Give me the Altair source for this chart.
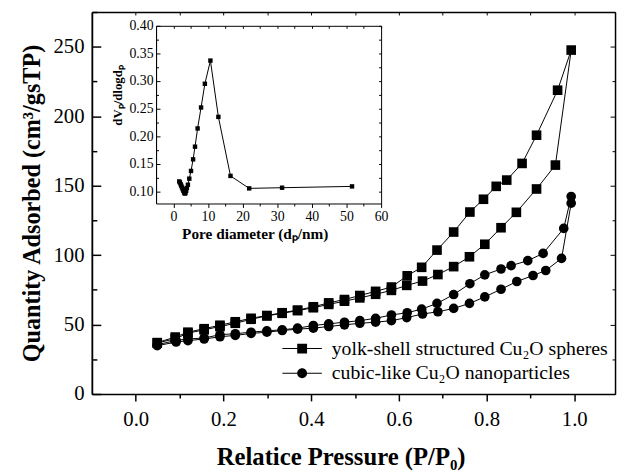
import altair as alt
import pandas as pd

# ---------------- data ----------------
SERIES = ["yolk-shell structured Cu\u2082O spheres", "cubic-like Cu\u2082O nanoparticles"]

yolk_ads_p = [0.049, 0.090, 0.119, 0.156, 0.192, 0.227, 0.263, 0.299, 0.334, 0.369, 0.405, 0.440, 0.476, 0.511,
              0.547, 0.583, 0.618, 0.654, 0.689, 0.725, 0.761, 0.796, 0.833, 0.868, 0.914, 0.957, 0.993]
yolk_ads_q = [36.7, 39.8, 43.8, 46.2, 48.6, 50.9, 53.8, 56.2, 58.1, 60.0, 62.1, 64.5, 66.8, 69.2,
              71.8, 74.6, 78.2, 81.3, 86.0, 91.7, 98.8, 107.8, 119.7, 130.8, 147.6, 164.8, 247.6]
yolk_des_p = [0.962, 0.914, 0.881, 0.846, 0.822, 0.793, 0.762, 0.725, 0.687, 0.652, 0.619, 0.583, 0.547, 0.511,
              0.476, 0.440, 0.405, 0.369, 0.334, 0.299, 0.263, 0.227, 0.192, 0.156, 0.119, 0.090, 0.049]
yolk_des_q = [218.7, 186.3, 166.0, 154.0, 149.5, 140.2, 131.0, 116.6, 103.6, 91.2, 85.1, 77.0, 73.9, 70.9,
              68.0, 65.6, 62.8, 60.4, 58.5, 56.5, 54.5, 52.0, 49.5, 47.0, 44.5, 41.0, 37.0]

cubic_ads_p = [0.049, 0.092, 0.119, 0.156, 0.192, 0.227, 0.263, 0.299, 0.334, 0.369, 0.405, 0.440, 0.476, 0.511,
               0.547, 0.583, 0.618, 0.654, 0.689, 0.725, 0.761, 0.796, 0.833, 0.869, 0.906, 0.935, 0.971, 0.993]
cubic_ads_q = [34.8, 37.4, 38.4, 39.6, 41.2, 42.2, 43.6, 44.5, 45.7, 46.7, 47.4, 48.6, 49.8, 50.9,
               51.7, 52.8, 55.0, 57.6, 59.2, 61.6, 65.2, 69.9, 75.4, 81.0, 85.3, 88.9, 97.6, 137.4]
cubic_des_p = [0.993, 0.976, 0.929, 0.894, 0.856, 0.833, 0.796, 0.762, 0.725, 0.687, 0.652, 0.619, 0.583, 0.547,
               0.511, 0.476, 0.440, 0.405, 0.369, 0.334, 0.299, 0.263, 0.227, 0.192, 0.156, 0.119, 0.092, 0.049]
cubic_des_q = [142.2, 119.2, 101.2, 96.0, 92.4, 90.0, 85.8, 79.4, 71.6, 65.2, 61.1, 58.5, 56.9, 54.5,
               52.8, 51.7, 50.5, 49.3, 47.4, 46.2, 45.5, 44.5, 43.4, 42.7, 40.3, 39.6, 38.6, 35.5]

pore_d = [1.7, 1.9, 2.1, 2.3, 2.5, 2.7, 2.9, 3.1, 3.3, 3.5, 3.7, 3.9, 4.2, 4.6, 5.1, 5.7, 6.25, 7.0, 8.0,
          9.1, 10.7, 13.0, 16.5, 21.9, 31.4, 51.6]
pore_dv = [0.118, 0.116, 0.113, 0.110, 0.107, 0.104, 0.101, 0.098, 0.096, 0.097, 0.101, 0.106, 0.112, 0.123,
           0.137, 0.158, 0.181, 0.214, 0.252, 0.295, 0.337, 0.235, 0.128, 0.1054, 0.1066, 0.109]

# ---------------- tables ----------------
rows = []
for name, ap, aq, dp, dq in [(SERIES[0], yolk_ads_p, yolk_ads_q, yolk_des_p, yolk_des_q),
                             (SERIES[1], cubic_ads_p, cubic_ads_q, cubic_des_p, cubic_des_q)]:
    k = 0
    for p, q in zip(ap + dp, aq + dq):
        rows.append({"series": name, "p": p, "q": q, "order": k})
        k += 1
main_df = pd.DataFrame(rows)
inset_df = pd.DataFrame({"d": pore_d, "dv": pore_dv, "order": list(range(len(pore_d)))})

# ---------------- layout constants ----------------
W, H = 530, 387
XD = [-0.1, 1.093]
YD = [0, 275]
IXD = [-5, 60]
IYD = [0.078, 0.40]
IXR = [65, 293]
IYR = [194, 14]
SERIF = "Liberation Serif"

x_all = [round(0.1 * i, 1) for i in range(11)]
y_all = [25 * i for i in range(12)]
ix_all = [5 * i for i in range(13)]
iy_all = [round(0.1 + 0.025 * i, 3) for i in range(13)]

is_major_x = "abs(datum.value*5 - round(datum.value*5)) < 0.001"
is_major_y = "datum.value % 50 == 0"
is_major_ix = "datum.value % 10 == 0"
is_major_iy = "abs(datum.value*20 - round(datum.value*20)) < 0.001"

base_axis = dict(grid=False, domainColor="black", tickColor="black", labelColor="black",
                 titleColor="black", labelFont=SERIF, titleFont=SERIF)


def xs(field, domain, rng=None):
    if rng is None:
        return alt.Scale(domain=domain, nice=False, zero=False)
    return alt.Scale(domain=domain, range=rng, nice=False, zero=False)


# ---------------- main chart layers ----------------
main_lines = alt.Chart(main_df).mark_line(color="black", strokeWidth=1).encode(
    x=alt.X("p:Q", scale=xs("p", XD), axis=alt.Axis(
        orient="bottom", values=x_all, domainWidth=1.5, tickWidth=1.5,
        tickSize={"condition": {"test": is_major_x, "value": 7}, "value": 4},
        labelExpr=is_major_x + " ? format(datum.value, '.1f') : ''",
        labelFontSize=21, labelPadding=8, labelFlush=False, labelOverlap=False,
        title="Relatice Pressure (P/P\u2080)", titleFontSize=25, titleFontWeight="bold",
        titlePadding=15, titleX=252, **base_axis)),
    y=alt.Y("q:Q", scale=xs("q", YD), axis=alt.Axis(
        orient="left", values=[0, 50, 100, 150, 200, 250], ticks=False, tickSize=0,
        domainWidth=1.5, labelFontSize=21, labelPadding=8, labelFlush=False,
        title="Quantity Adsorbed (cm\u00b3/gsTP)", titleFontSize=24.5, titleFontWeight="bold",
        titlePadding=9, **base_axis)),
    detail="series:N",
    order="order:Q",
)

main_points = alt.Chart(main_df).mark_point(filled=True, color="black", opacity=1, size=95).encode(
    x=alt.X("p:Q", scale=xs("p", XD), axis=alt.Axis(
        orient="bottom", offset=-H, values=x_all, labels=False, tickSize=3, tickWidth=1,
        domainWidth=1.5, title=None, **base_axis)),
    y=alt.Y("q:Q", scale=xs("q", YD), axis=alt.Axis(
        orient="right", offset=-W, values=y_all, labels=False, tickWidth=1.5,
        tickSize={"condition": {"test": is_major_y, "value": 9}, "value": 5},
        domainWidth=1.5, title=None, **base_axis)),
    shape=alt.Shape("series:N", scale=alt.Scale(domain=SERIES, range=["square", "circle"]), legend=None),
)

main_right = alt.Chart(main_df).mark_point(opacity=0, size=0).encode(
    x=alt.X("p:Q", scale=xs("p", XD), axis=None),
    y=alt.Y("q:Q", scale=xs("q", YD), axis=alt.Axis(
        orient="left", offset=-W, values=y_all, labels=False, tickWidth=1,
        tickSize={"condition": {"test": is_major_y, "value": 5}, "value": 3},
        domainWidth=1.5, title=None, **base_axis)),
)

# legend layer (invisible marks; legend symbols are line + marker drawn as filled paths)
sq_path = "M-4,-0.1H4V0.1H-4Z M-1,-1H1V1H-1Z"
ci_path = "M-4,-0.1H4V0.1H-4Z M1,0A1,1,0,1,1,-1,0A1,1,0,1,1,1,0Z"
legend_layer = alt.Chart(main_df).mark_point(size=0, filled=True, color="black", opacity=1).encode(
    x=alt.X("p:Q", scale=xs("p", XD), axis=None),
    y=alt.Y("q:Q", scale=xs("q", YD), axis=None),
    shape=alt.Shape("series:N", scale=alt.Scale(domain=SERIES, range=[sq_path, ci_path]),
                    legend=alt.Legend(orient="none", legendX=203, legendY=331, title=None,
                                      symbolSize=100, symbolFillColor="black",
                                      symbolStrokeWidth=0, symbolOpacity=1, labelOffset=20,
                                      labelFont=SERIF, labelFontSize=20, labelColor="black",
                                      rowPadding=5, padding=0, labelLimit=400)),
)

# ---------------- inset layers ----------------
inset_line = alt.Chart(inset_df).mark_line(color="black", strokeWidth=1).encode(
    x=alt.X("d:Q", scale=xs("d", IXD, IXR), axis=alt.Axis(
        orient="bottom", offset=IYR[0] - H, values=ix_all, tickWidth=1,
        tickSize={"condition": {"test": is_major_ix, "value": 4}, "value": 2.5},
        labelExpr=is_major_ix + " ? datum.label : ''", labelFontSize=14, labelPadding=2,
        labelFlush=False, labelOverlap=False, domainWidth=1,
        title="Pore diameter (d\u209a/nm)", titleFontSize=15.5, titleFontWeight="bold",
        titlePadding=3, titleX=165, **base_axis)),
    y=alt.Y("dv:Q", scale=xs("dv", IYD, IYR), axis=alt.Axis(
        orient="left", offset=-IXR[0], values=[0.10, 0.15, 0.20, 0.25, 0.30, 0.35, 0.40], format=".2f",
        ticks=False, tickSize=0, labelFontSize=14, labelPadding=3, labelFlush=False, domainWidth=1,
        title="dV\u209a/dlogd\u209a", titleFontSize=13, titleFontWeight="bold", titlePadding=5,
        titleY=84, **base_axis)),
    order="order:Q",
)

inset_points = alt.Chart(inset_df).mark_point(shape="square", filled=True, color="black", opacity=1, size=20).encode(
    x=alt.X("d:Q", scale=xs("d", IXD, IXR), axis=alt.Axis(
        orient="bottom", offset=IYR[1] - H, values=ix_all, labels=False, tickSize=2.5, tickWidth=1,
        domainWidth=1, title=None, **base_axis)),
    y=alt.Y("dv:Q", scale=xs("dv", IYD, IYR), axis=alt.Axis(
        orient="right", offset=IXR[0] - W, values=iy_all, labels=False, tickWidth=1,
        tickSize={"condition": {"test": is_major_iy, "value": 4}, "value": 2.5},
        domainWidth=1, title=None, **base_axis)),
)

inset_right = alt.Chart(inset_df).mark_point(opacity=0, size=0).encode(
    x=alt.X("d:Q", scale=xs("d", IXD, IXR), axis=None),
    y=alt.Y("dv:Q", scale=xs("dv", IYD, IYR), axis=alt.Axis(
        orient="left", offset=-IXR[1], values=iy_all, labels=False, tickWidth=1, tickSize=2.5,
        domainWidth=1, title=None, **base_axis)),
)

chart = alt.layer(
    main_lines, main_points, main_right, legend_layer, inset_line, inset_points, inset_right
).resolve_scale(
    x="independent", y="independent", shape="independent"
).resolve_axis(
    x="independent", y="independent"
).properties(
    width=W, height=H,
    autosize=alt.AutoSizeParams(type="none"),
    padding={"left": 85, "top": 1, "right": 3, "bottom": 79},
).configure(
    font=SERIF
).configure_axis(
    labelFont=SERIF, titleFont=SERIF
).configure_legend(
    labelFont=SERIF
).configure_view(stroke=None)

chart.save("out.html", embed_options={"renderer": "svg", "actions": False})
